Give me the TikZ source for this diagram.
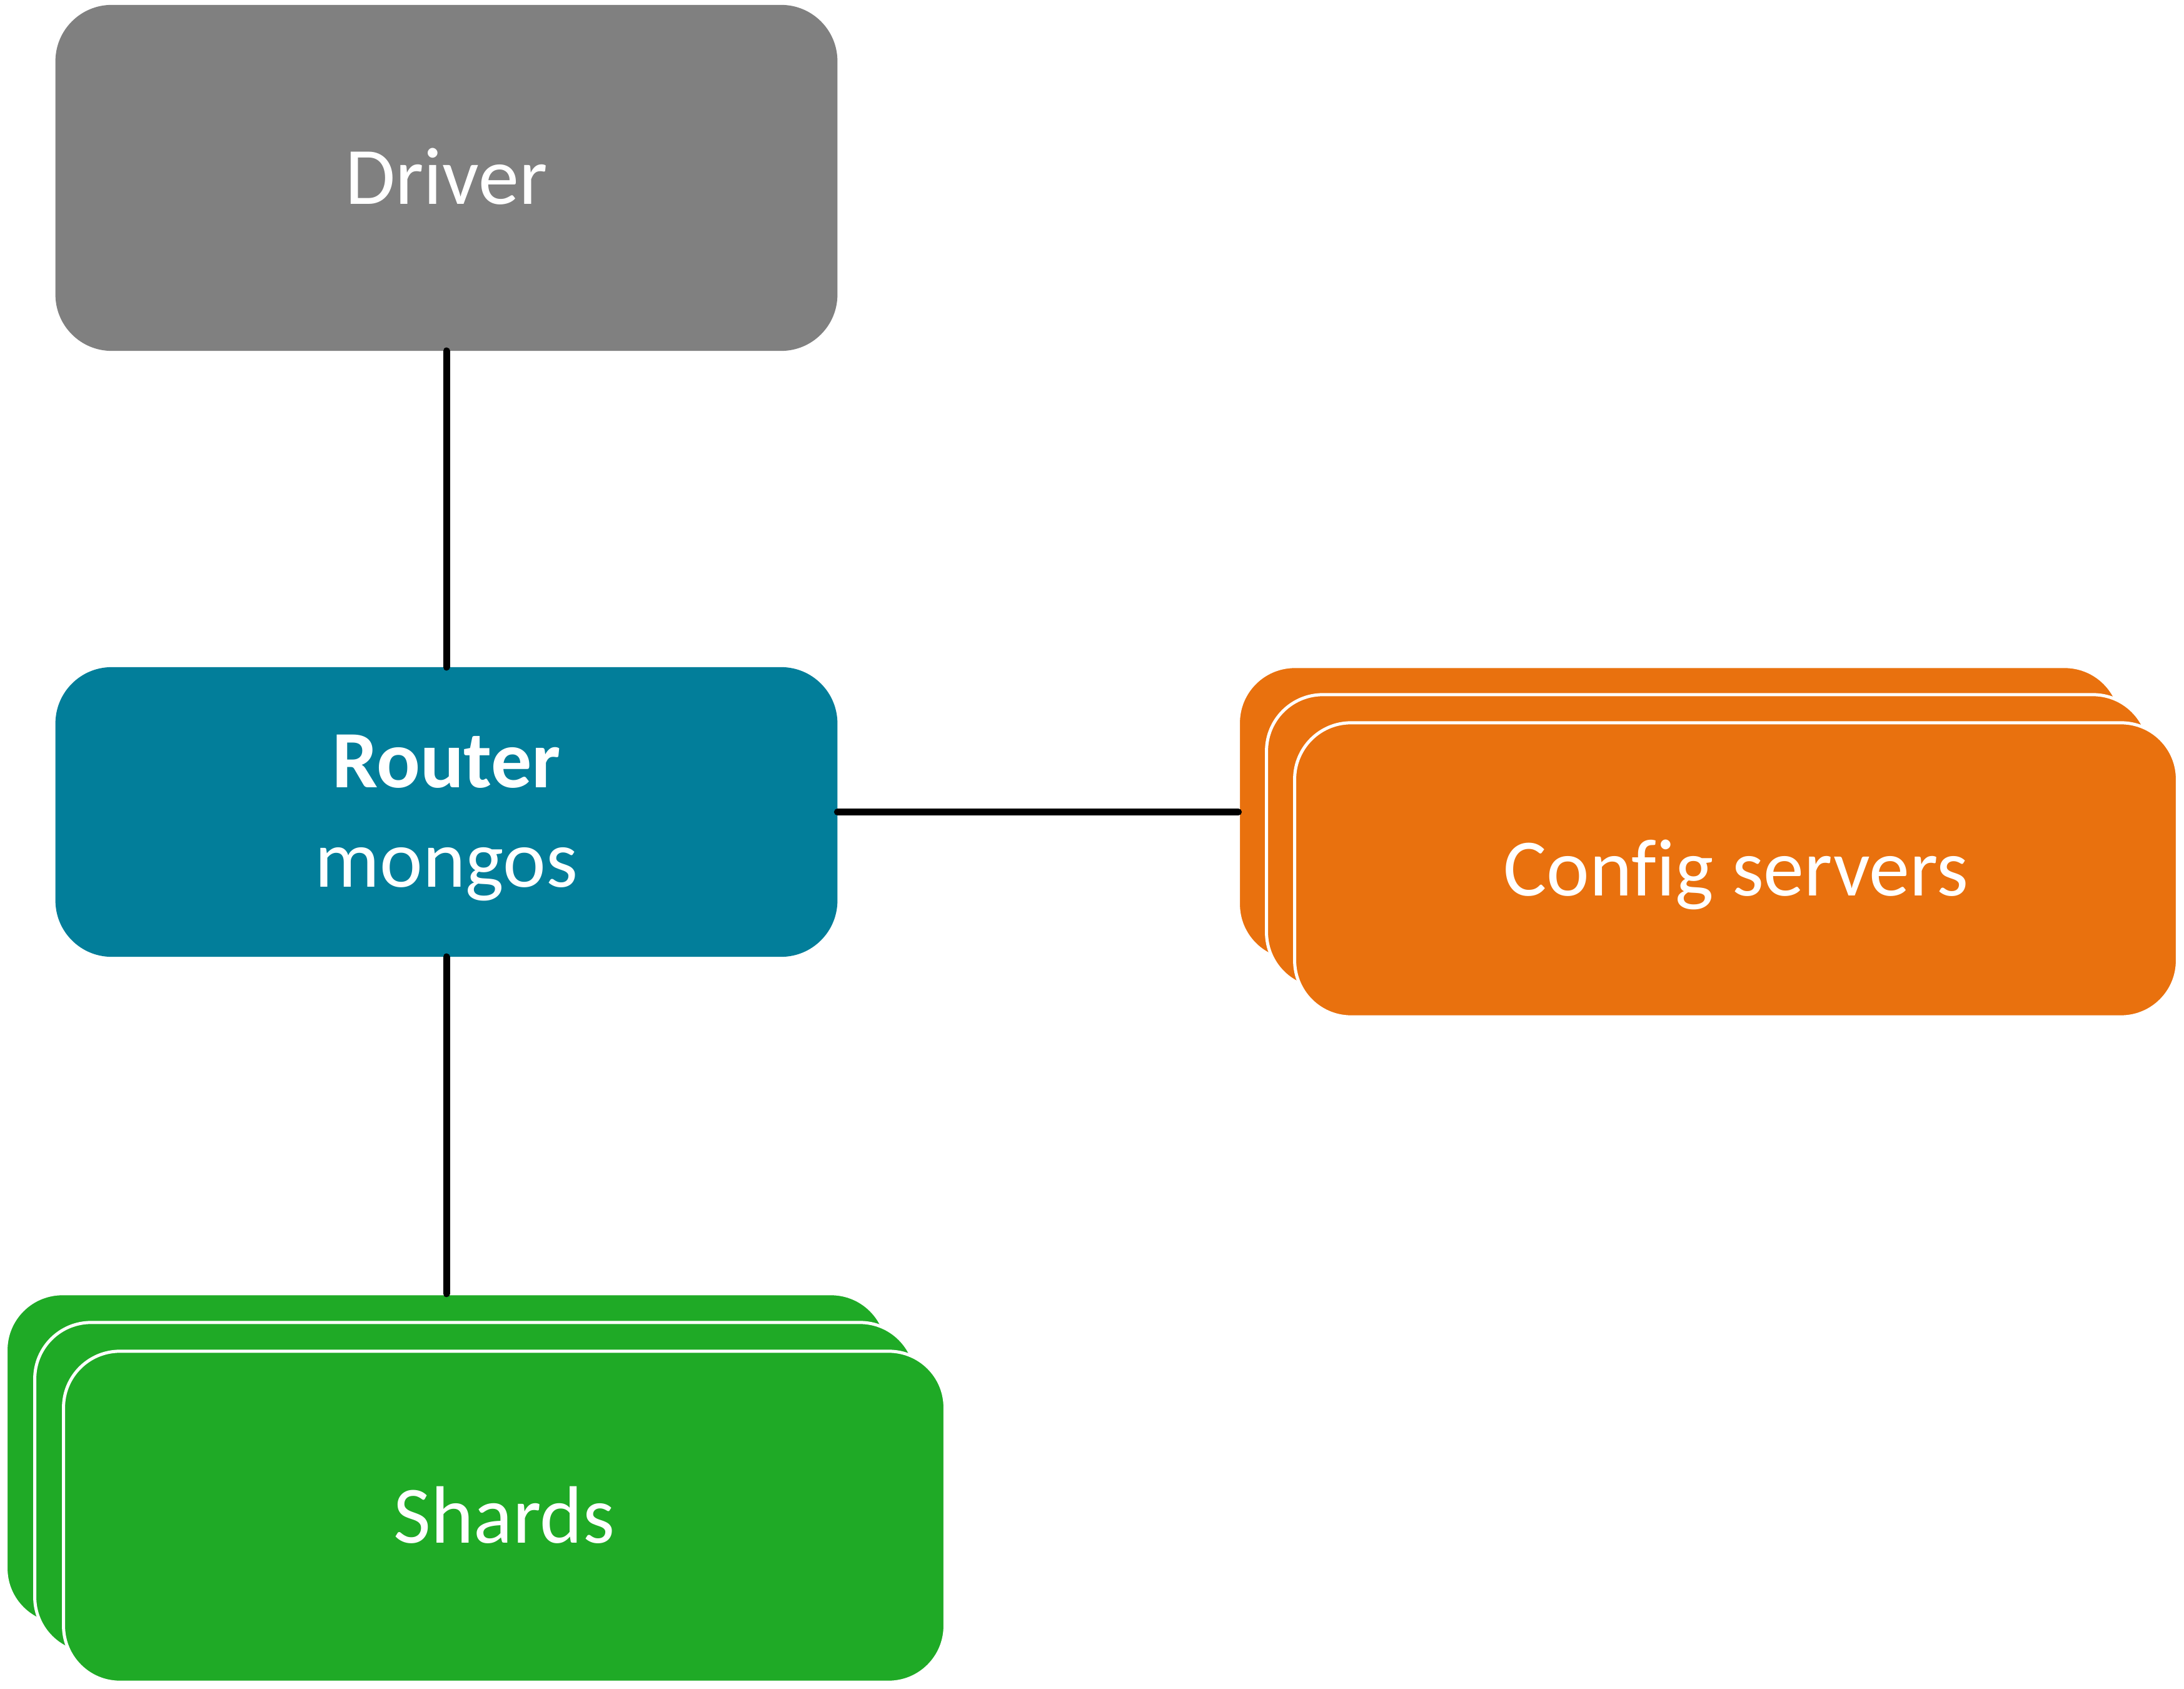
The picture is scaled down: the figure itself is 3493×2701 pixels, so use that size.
\documentclass[tikz,border=0pt]{standalone}
\usepackage{fontspec}
\setmainfont{Carlito}[Ligatures=NoCommon]
\definecolor{drvgray}{RGB}{128,128,128}
\definecolor{routerteal}{RGB}{2,126,154}
\definecolor{cfgorange}{RGB}{233,113,14}
\definecolor{shardgreen}{RGB}{31,170,38}
\begin{document}
\begin{tikzpicture}[x=0.01cm,y=-0.01cm,
  box/.style={rectangle, rounded corners=0.9cm, inner sep=0pt, outer sep=0pt,
    text=white, font=\fontsize{37}{45}\selectfont, align=center,
    text height=0.83cm, text depth=0pt},
  stackbox/.style={box, draw=white, line width=0.05cm},
  cfgbox/.style={stackbox, fill=cfgorange, minimum width=14.11cm, minimum height=4.70cm},
  shardbox/.style={stackbox, fill=shardgreen, minimum width=14.09cm, minimum height=5.29cm},
  link/.style={line width=0.11cm, line cap=round, draw=black}]
\useasboundingbox (0,0) rectangle (3493,2701);
\node[box, fill=drvgray, minimum width=12.5cm, minimum height=5.53cm] (driver) at (714,284.5) {Driver};
\node[box, fill=routerteal, minimum width=12.5cm, minimum height=4.63cm, text height=2.39cm, text depth=0pt] (router) at (714,1298.5) {\textbf{Router}\\mongos};
% config servers stack
\node[cfgbox] (cfgback) at (2686.5,1301) {};
\node[cfgbox] (cfgmid) at (2731.5,1346) {};
\node[cfgbox] (cfgfront) at (2776.5,1391) {Config servers};
% shards stack
\node[shardbox] (shardback) at (714.5,2333.5) {};
\node[shardbox] (shardmid) at (760.5,2379.5) {};
\node[shardbox] (shardfront) at (806.5,2425.5) {Shards};
% connectors
\draw[link] (driver.south) -- (router.north);
\draw[link] (router.east) -- (router.east -| cfgback.west);
\draw[link] (router.south) -- (router.south |- shardback.north);
\end{tikzpicture}
\end{document}
